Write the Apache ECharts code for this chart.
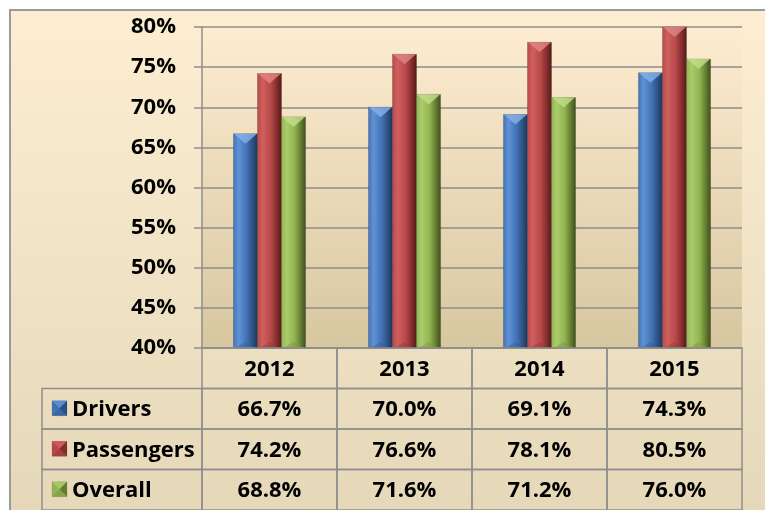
<!DOCTYPE html>
<html>
<head>
<meta charset="utf-8">
<script src="https://cdn.jsdelivr.net/npm/echarts@6/dist/echarts.min.js"></script>
<style>
html,body{margin:0;padding:0;background:#fff;}
#chart{width:765px;height:510px;}
</style>
</head>
<body>
<div id="chart"></div>
<script>
var years = ['2012', '2013', '2014', '2015'];
var seriesNames = ['Drivers', 'Passengers', 'Overall'];
var drivers = [66.7, 70.0, 69.1, 74.3];
var passengers = [74.2, 76.6, 78.1, 80.5];
var overall = [68.8, 71.6, 71.2, 76.0];
var yTicks = [40, 45, 50, 55, 60, 65, 70, 75, 80];

var seriesValues = [drivers, passengers, overall];
var yMin = yTicks[0], yMax = yTicks[yTicks.length - 1];

var palette = [
  {light: '#5f93d6', mid: '#4272b5', dark: '#1c3558', tri: '#86b2ea', bot: '#36609a'},
  {light: '#d0605d', mid: '#b8484a', dark: '#561816', tri: '#e08783', bot: '#9c3a38'},
  {light: '#abcc6c', mid: '#92b350', dark: '#3e4f18', tri: '#c2de8a', bot: '#7d9a40'}
];

function hGrad(p) {
  return new echarts.graphic.LinearGradient(0, 0, 1, 0, [
    {offset: 0, color: p.mid},
    {offset: 0.22, color: p.light},
    {offset: 0.55, color: p.mid},
    {offset: 1, color: p.dark}
  ]);
}

var FONT = 'Open Sans';
var FSIZE = 22;
var chart = echarts.init(document.getElementById('chart'), null, {renderer: 'canvas'});

function barRender(sIdx) {
  return function (params, api) {
    var cat = api.value(0);
    var v = Math.min(api.value(1), yMax);
    var top = api.coord([cat, v]);
    var base = api.coord([cat, yMin]);
    var bw = api.size([1, 0])[0] * 0.178;
    var cx = top[0] + (sIdx - 1) * bw;
    var x0 = cx - bw / 2;
    var p = palette[sIdx];
    var h = base[1] - top[1];
    var triH = Math.min(10, h / 2);
    return {
      type: 'group',
      children: [
        {type: 'rect', shape: {x: x0, y: top[1], width: bw, height: h},
         style: {fill: hGrad(p), stroke: 'rgba(40,40,40,0.4)', lineWidth: 0.6}},
        {type: 'polygon', shape: {points: [[x0 + 0.5, top[1]], [x0 + bw - 0.5, top[1]], [cx, top[1] + triH]]},
         style: {fill: p.tri, opacity: 0.8}},
        {type: 'polygon', shape: {points: [[x0 + 2, base[1]], [x0 + bw - 2, base[1]], [cx, base[1] - 6]]},
         style: {fill: p.bot, opacity: 0.5}}
      ]
    };
  };
}

var TXT = {fontFamily: FONT, fontWeight: 'bold', fontSize: FSIZE, fill: '#000'};
var LINE = '#8e8e8e';

function tableRender(params, api) {
  var col = api.value(0), row = api.value(1), kind = api.value(2);
  var c = api.coord([col, row]);
  var sz = api.size([1, 1]);
  var w = sz[0], h = sz[1];
  var children = [];
  if (kind === 0) {
    var txt = row === 0 ? years[col] : seriesValues[row - 1][col].toFixed(1) + '%';
    children.push({type: 'rect', shape: {x: c[0] - w / 2, y: c[1] - h / 2, width: w, height: h},
      style: {fill: 'none', stroke: LINE, lineWidth: 1.5}});
    children.push({type: 'text', x: c[0], y: c[1] + 1,
      style: Object.assign({text: txt, align: 'center', verticalAlign: 'middle'}, TXT)});
  } else {
    var left = c[0] - w / 2 - 160;
    var p = palette[row - 1];
    children.push({type: 'rect', shape: {x: left, y: c[1] - h / 2, width: 160, height: h},
      style: {fill: 'none', stroke: LINE, lineWidth: 1.5}});
    var kx = left + 10, ky = c[1] - 8;
    children.push({type: 'rect', shape: {x: kx, y: ky, width: 15, height: 15},
      style: {fill: p.mid, stroke: 'rgba(60,60,60,0.25)', lineWidth: 0.5}});
    children.push({type: 'polygon', shape: {points: [[kx, ky], [kx + 15, ky], [kx + 7.5, ky + 7.5]]},
      style: {fill: p.light, opacity: 0.8}});
    children.push({type: 'polygon', shape: {points: [[kx + 15, ky], [kx + 15, ky + 15], [kx + 7.5, ky + 7.5]]},
      style: {fill: p.dark, opacity: 0.55}});
    children.push({type: 'polygon', shape: {points: [[kx, ky + 15], [kx + 15, ky + 15], [kx + 7.5, ky + 7.5]]},
      style: {fill: p.bot, opacity: 0.6}});
    children.push({type: 'text', x: left + 30, y: c[1] + 1,
      style: Object.assign({text: seriesNames[row - 1], align: 'left', verticalAlign: 'middle'}, TXT)});
  }
  return {type: 'group', children: children};
}

var tableData = [];
for (var r = 0; r < 4; r++) {
  for (var cc = 0; cc < years.length; cc++) tableData.push([cc, r, 0]);
  if (r > 0) tableData.push([0, r, 1]);
}

var barSeries = seriesValues.map(function (vals, sIdx) {
  return {
    type: 'custom', name: seriesNames[sIdx], xAxisIndex: 0, yAxisIndex: 0,
    renderItem: barRender(sIdx), clip: false, z: 3,
    data: vals.map(function (v, i) { return [i, v]; })
  };
});

var option = {
  animation: false,
  backgroundColor: '#ffffff',
  graphic: {
    elements: [{
      type: 'rect', z: -10, silent: true,
      shape: {x: 10, y: 10, width: 800, height: 560},
      style: {
        fill: new echarts.graphic.LinearGradient(0, 0, 0, 1, [
          {offset: 0, color: '#fdeed2'}, {offset: 1, color: '#e2d6b6'}
        ]),
        stroke: '#9a9a9a', lineWidth: 2
      }
    }]
  },
  grid: [
    {left: 202, right: 23, top: 27, height: 321, show: true, borderWidth: 0, z: 0,
     backgroundColor: new echarts.graphic.LinearGradient(0, 0, 0, 1, [
       {offset: 0, color: 'rgba(253,236,208,1)'}, {offset: 1, color: 'rgba(215,199,160,1)'}
     ])},
    {left: 202, right: 23, top: 348, height: 166}
  ],
  xAxis: [
    {type: 'category', gridIndex: 0, data: years,
     axisLine: {show: true, lineStyle: {color: LINE, width: 1.5}},
     axisTick: {show: false}, axisLabel: {show: false}, splitLine: {show: false}},
    {type: 'category', gridIndex: 1, data: years, show: false}
  ],
  yAxis: [
    {type: 'value', gridIndex: 0, min: yMin, max: yMax, interval: 5,
     axisLine: {show: true, lineStyle: {color: LINE, width: 1.5}},
     axisTick: {show: true, length: 8, lineStyle: {color: LINE, width: 1.5}},
     axisLabel: {margin: 26, formatter: '{value}%', fontFamily: FONT, fontWeight: 'bold', fontSize: FSIZE, color: '#000'},
     splitLine: {show: true, lineStyle: {color: LINE, width: 1.5}}},
    {type: 'category', gridIndex: 1, data: ['', 'Drivers', 'Passengers', 'Overall'], inverse: true, show: false}
  ],
  series: barSeries.concat([{
    type: 'custom', name: 'table', xAxisIndex: 1, yAxisIndex: 1, clip: false, z: 4,
    renderItem: tableRender, data: tableData
  }])
};
chart.setOption(option);
</script>
</body>
</html>
